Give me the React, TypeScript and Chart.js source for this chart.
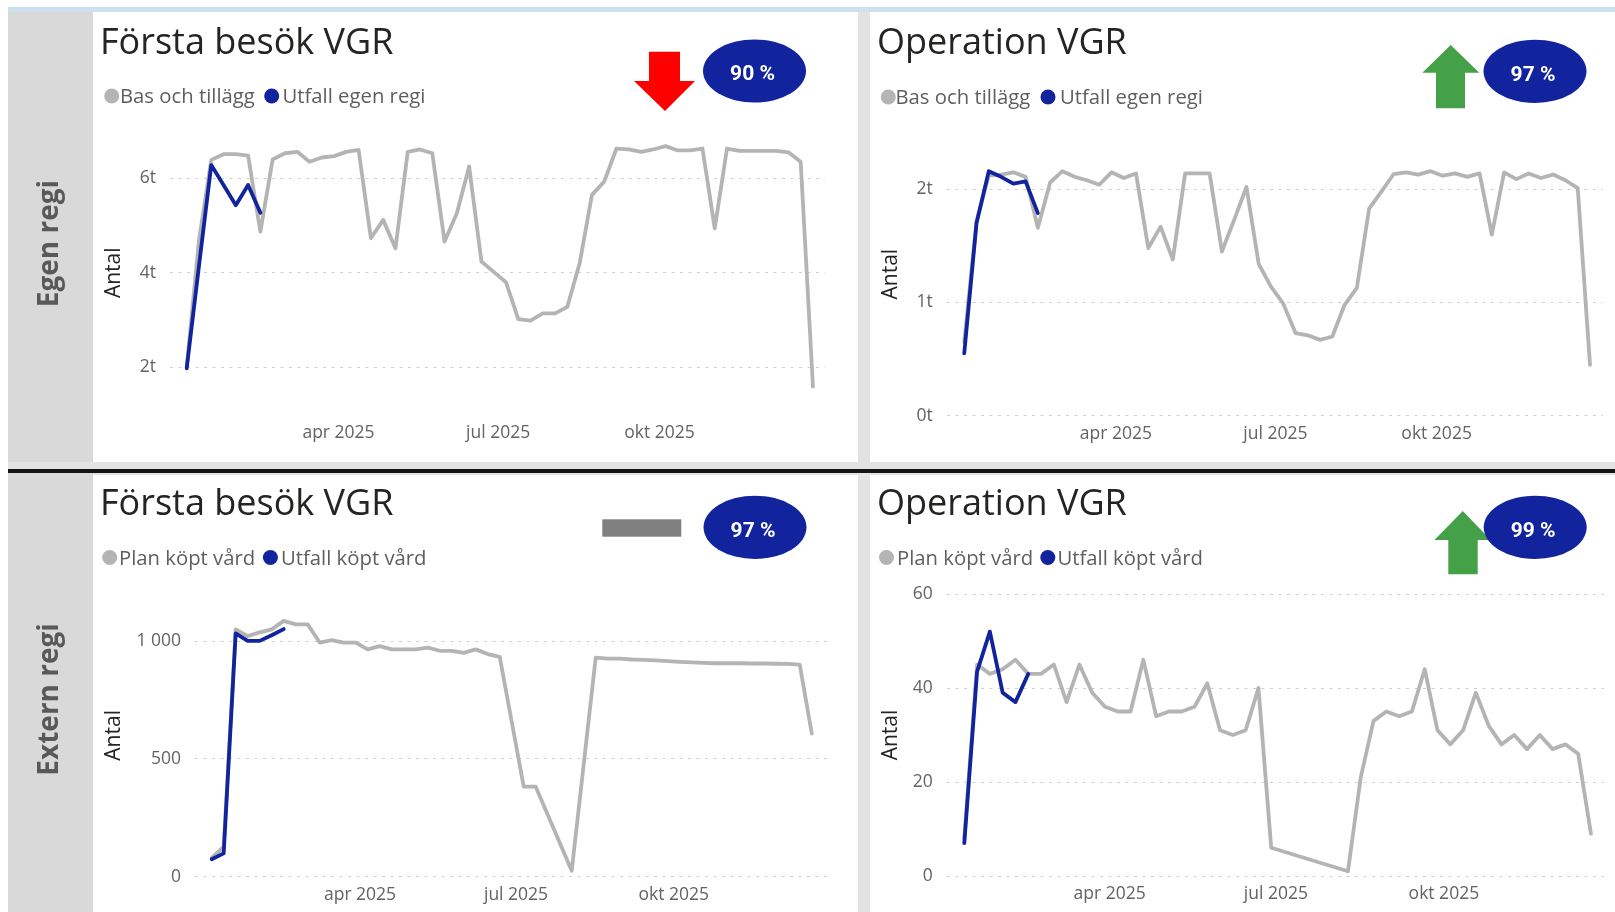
import React, { useEffect, useRef } from 'react';
import { Chart, registerables } from 'chart.js';

Chart.register(...registerables);

const FONT = "'Open Sans', 'Noto Sans', sans-serif";
const GRAY = '#b4b4b4';
const BLUE = '#12239E';
const TICK_COLOR = '#666260';
const TEXT_DARK = '#252423';

// x axis: week number of 2025 (week 1 = first data week)
const X_TICK_WEEKS = [13.36, 26.36, 39.5];
const X_TICK_LABELS = ['apr 2025', 'jul 2025', 'okt 2025'];

const ROW_LABELS = ['Egen regi', 'Extern regi'];
const LEGEND_EGEN = ['Bas och tillägg', 'Utfall egen regi'];
const LEGEND_EXTERN = ['Plan köpt vård', 'Utfall köpt vård'];
const Y_TITLE = 'Antal';

// Top-left: Första besök VGR (egen regi)
const TL_TITLE = 'Första besök VGR';
const TL_KPI = '90 %';
const TL_FIRST_WEEK = 1;
const TL_BAS = [2000, 4690, 6390, 6510, 6510, 6480, 4870, 6400, 6530, 6560, 6350, 6440, 6470, 6560, 6600, 4730, 5120, 4520, 6560, 6610, 6530, 4660, 5260, 6250, 4240, 4020, 3800, 3020, 2990, 3140, 3140, 3280, 4200, 5650, 5930, 6630, 6610, 6560, 6610, 6680, 6590, 6590, 6630, 4940, 6630, 6580, 6580, 6580, 6580, 6550, 6350, 1590];
const TL_UTFALL = [1980, 4150, 6280, 5860, 5430, 5860, 5270];
const TL_Y_TICKS = [2000, 4000, 6000];
const TL_Y_LABELS = ['2t', '4t', '6t'];

// Top-right: Operation VGR (egen regi)
const TR_TITLE = 'Operation VGR';
const TR_KPI = '97 %';
const TR_FIRST_WEEK = 1;
const TR_BAS = [650, 1720, 2120, 2130, 2150, 2110, 1660, 2060, 2160, 2110, 2080, 2040, 2150, 2100, 2140, 1480, 1670, 1380, 2140, 2140, 2140, 1450, 1730, 2020, 1340, 1140, 990, 730, 710, 670, 700, 980, 1130, 1830, 1980, 2135, 2150, 2130, 2160, 2120, 2140, 2110, 2140, 1600, 2150, 2090, 2140, 2100, 2130, 2080, 2010, 450];
const TR_UTFALL = [551, 1700, 2160, 2110, 2050, 2070, 1790];
const TR_Y_TICKS = [0, 1000, 2000];
const TR_Y_LABELS = ['0t', '1t', '2t'];

// Bottom-left: Första besök VGR (extern regi)
const BL_TITLE = 'Första besök VGR';
const BL_KPI = '97 %';
const BL_FIRST_WEEK = 1;
const BL_PLAN = [80, 127, 1050, 1021, 1037, 1050, 1086, 1071, 1071, 994, 1004, 994, 994, 965, 979, 965, 965, 965, 972, 959, 959, 950, 965, 945, 933, null, 382, 382, null, null, 25, null, 930, 926, 926, 922, 920, 918, 915, 912, 910, 908, 906, 906, 906, 905, 905, 904, 903, 900, 608];
const BL_UTFALL = [74, 99, 1033, 1001, 1001, 1025, 1051];
const BL_Y_TICKS = [0, 500, 1000];
const BL_Y_LABELS = ['0', '500', '1 000'];

// Bottom-right: Operation VGR (extern regi)
const BR_TITLE = 'Operation VGR';
const BR_KPI = '99 %';
const BR_FIRST_WEEK = 2;
const BR_PLAN = [8, 45, 43, 44, 46, 43, 43, 45, 37, 45, 39, 36, 35, 35, 46, 34, 35, 35, 36, 41, 31, 30, 31, 40, 6, null, null, null, null, null, 1, 21, 33, 35, 34, 35, 44, 31, 28, 31, 39, 32, 28, 30, 27, 30, 27, 28, 26, 9];
const BR_UTFALL = [7, 43.5, 52, 39, 37, 43];
const BR_Y_TICKS = [0, 20, 40, 60];
const BR_Y_LABELS = ['0', '20', '40', '60'];

type Area = { l: number; t: number; r: number; b: number };
type ChartProps = {
  left: number; top: number; width: number; height: number;
  area: Area;
  xMin: number; xMax: number; yMin: number; yMax: number;
  yTicks: number[]; yLabels: string[];
  firstWeek: number;
  plan: (number | null)[];
  actual: number[];
  names: string[];
};

function LineChart(p: ChartProps) {
  const ref = useRef<HTMLCanvasElement | null>(null);
  useEffect(() => {
    const canvas = ref.current;
    if (!canvas) return;
    const toPts = (arr: (number | null)[]) => arr.map((v, i) => ({ x: p.firstWeek + i, y: v }));
    const tickFont = { family: FONT, size: 17.5, lineHeight: 1.2 };
    const chart = new Chart(canvas, {
      type: 'line',
      data: {
        datasets: [
          {
            label: p.names[0], data: toPts(p.plan) as any, borderColor: GRAY, backgroundColor: GRAY,
            borderWidth: 3.8, pointRadius: 0, tension: 0, spanGaps: true, order: 2,
            borderJoinStyle: 'round', borderCapStyle: 'round',
          },
          {
            label: p.names[1], data: toPts(p.actual) as any, borderColor: BLUE, backgroundColor: BLUE,
            borderWidth: 3.8, pointRadius: 0, tension: 0, spanGaps: true, order: 1,
            borderJoinStyle: 'round', borderCapStyle: 'round',
          },
        ],
      },
      options: {
        animation: false,
        responsive: false,
        maintainAspectRatio: false,
        layout: { padding: { top: p.area.t - p.top, right: p.left + p.width - p.area.r, left: 0, bottom: 0 } },
        plugins: { legend: { display: false }, tooltip: { enabled: false } },
        scales: {
          x: {
            type: 'linear', min: p.xMin, max: p.xMax, bounds: 'data',
            afterBuildTicks: (axis: any) => { axis.ticks = X_TICK_WEEKS.map((v) => ({ value: v })); },
            afterFit: (axis: any) => { axis.height = p.top + p.height - p.area.b; },
            ticks: {
              autoSkip: false, maxRotation: 0, minRotation: 0, padding: 7.8, color: TICK_COLOR, font: tickFont,
              callback: (_v: any, i: number) => X_TICK_LABELS[i],
            },
            grid: { display: false, drawTicks: false },
            border: { display: false },
          },
          y: {
            type: 'linear', min: p.yMin, max: p.yMax, bounds: 'data',
            afterBuildTicks: (axis: any) => { axis.ticks = p.yTicks.map((v) => ({ value: v })); },
            afterFit: (axis: any) => { axis.width = p.area.l - p.left; },
            ticks: {
              padding: 0, color: TICK_COLOR, font: tickFont,
              callback: (_v: any, i: number) => p.yLabels[i],
            },
            grid: { color: '#cfcfcf', lineWidth: 1, drawTicks: true, tickLength: 14, tickColor: 'rgba(0,0,0,0)' },
            border: { display: false, dash: [3, 5.5] },
            title: {
              display: true, text: Y_TITLE, color: TEXT_DARK,
              font: { family: FONT, size: 21, weight: '500', lineHeight: 1.2 },
              padding: { top: 8.5, bottom: 0 },
            },
          },
        },
      } as any,
    });
    return () => chart.destroy();
  }, []);
  return (
    <canvas
      ref={ref}
      width={p.width}
      height={p.height}
      style={{ position: 'absolute', left: p.left, top: p.top, width: p.width, height: p.height }}
    />
  );
}

function Legend({ names, dots, texts, cy, base }: { names: string[]; dots: number[]; texts: number[]; cy: number; base: number }) {
  return (
    <g>
      <circle cx={dots[0]} cy={cy} r={7.5} fill={GRAY} />
      <text x={texts[0]} y={base} fontFamily={FONT} fontSize={20.3} fill="#605e5c">{names[0]}</text>
      <circle cx={dots[1]} cy={cy} r={7.5} fill={BLUE} />
      <text x={texts[1]} y={base} fontFamily={FONT} fontSize={20.3} fill="#605e5c">{names[1]}</text>
    </g>
  );
}

function Kpi({ cx, cy, text }: { cx: number; cy: number; text: string }) {
  return (
    <g>
      <ellipse cx={cx} cy={cy} rx={51.5} ry={31.6} fill={BLUE} />
      <text x={cx - 2} y={cy + 9.3} textAnchor="middle" fontFamily="Roboto, 'Open Sans', sans-serif" fontWeight={700} fontSize={21} fill="#ffffff">{text}</text>
    </g>
  );
}

export default function App() {
  const abs = (l: number, t: number, w: number, h: number, bg: string): React.CSSProperties => ({
    position: 'absolute', left: l, top: t, width: w, height: h, background: bg,
  });
  return (
    <div style={{ position: 'fixed', left: 0, top: 0, width: 1615, height: 912, background: '#ffffff', overflow: 'hidden' }}>
      <div style={abs(8, 7, 1607, 5, '#cde0ee')} />
      <div style={abs(8, 12, 1607, 900, '#e3e3e3')} />
      <div style={abs(8, 12, 85, 450, '#d9d9d9')} />
      <div style={abs(8, 473, 85, 439, '#d9d9d9')} />
      <div style={abs(93, 12, 765, 450, '#ffffff')} />
      <div style={abs(870, 12, 745, 450, '#ffffff')} />
      <div style={abs(93, 475, 765, 437, '#ffffff')} />
      <div style={abs(870, 475, 745, 437, '#ffffff')} />
      <div style={abs(8, 469, 1607, 3.5, '#141414')} />

      <LineChart
        left={93} top={115} width={765} height={345}
        area={{ l: 170, t: 131.05, r: 825, b: 414.55 }}
        xMin={-0.36} xMax={52.98} yMin={1000} yMax={7000}
        yTicks={TL_Y_TICKS} yLabels={TL_Y_LABELS}
        firstWeek={TL_FIRST_WEEK} plan={TL_BAS} actual={TL_UTFALL} names={LEGEND_EGEN}
      />
      <LineChart
        left={870} top={115} width={745} height={345}
        area={{ l: 946.7, t: 132.7, r: 1603, b: 415.7 }}
        xMin={-0.43} xMax={53.06} yMin={0} yMax={2500}
        yTicks={TR_Y_TICKS} yLabels={TR_Y_LABELS}
        firstWeek={TR_FIRST_WEEK} plan={TR_BAS} actual={TR_UTFALL} names={LEGEND_EGEN}
      />
      <LineChart
        left={93} top={578} width={765} height={334}
        area={{ l: 195, t: 594, r: 827, b: 876.7 }}
        xMin={-0.39} xMax={52.27} yMin={0} yMax={1200}
        yTicks={BL_Y_TICKS} yLabels={BL_Y_LABELS}
        firstWeek={BL_FIRST_WEEK} plan={BL_PLAN} actual={BL_UTFALL} names={LEGEND_EXTERN}
      />
      <LineChart
        left={870} top={578} width={745} height={334}
        area={{ l: 946.7, t: 594, r: 1604, b: 876 }}
        xMin={0.624} xMax={52.02} yMin={0} yMax={60}
        yTicks={BR_Y_TICKS} yLabels={BR_Y_LABELS}
        firstWeek={BR_FIRST_WEEK} plan={BR_PLAN} actual={BR_UTFALL} names={LEGEND_EXTERN}
      />

      <svg width={1615} height={912} style={{ position: 'absolute', left: 0, top: 0, pointerEvents: 'none' }}>
        <text transform="translate(57.5,243.6) rotate(-90)" textAnchor="middle" fontFamily={FONT} fontWeight={700} fontSize={28} fill="#595959">{ROW_LABELS[0]}</text>
        <text transform="translate(57.5,699.4) rotate(-90)" textAnchor="middle" fontFamily={FONT} fontWeight={700} fontSize={28} fill="#595959">{ROW_LABELS[1]}</text>

        <text x={100} y={54} fontFamily={FONT} fontSize={36} fill={TEXT_DARK}>{TL_TITLE}</text>
        <text x={877} y={54} fontFamily={FONT} fontSize={36} fill={TEXT_DARK}>{TR_TITLE}</text>
        <text x={100} y={515} fontFamily={FONT} fontSize={36} fill={TEXT_DARK}>{BL_TITLE}</text>
        <text x={877} y={515} fontFamily={FONT} fontSize={36} fill={TEXT_DARK}>{BR_TITLE}</text>

        <Legend names={LEGEND_EGEN} dots={[111.7, 271.7]} texts={[120, 282.5]} cy={96} base={102.8} />
        <Legend names={LEGEND_EGEN} dots={[888.3, 1048]} texts={[895.5, 1060]} cy={97} base={103.8} />
        <Legend names={LEGEND_EXTERN} dots={[109.7, 270.4]} texts={[119, 281]} cy={557.5} base={564.5} />
        <Legend names={LEGEND_EXTERN} dots={[886.5, 1047.8]} texts={[897, 1057.5]} cy={557.5} base={564.5} />

        {/* indicators */}
        <polygon points="649,51.7 680,51.7 680,81 695,81 665,111 634,81 649,81" fill="#ff0000" />
        <polygon points="1450.7,45 1479.3,72.7 1465,72.7 1465,108.3 1436,108.3 1436,72.7 1422.3,72.7" fill="#45a147" />
        <rect x={602.3} y={519.3} width={79} height={17.4} fill="#808080" />
        <polygon points="1462.8,511 1490.7,540 1477.7,540 1477.7,574.3 1448.3,574.3 1448.3,540 1434.4,540" fill="#45a147" />

        <Kpi cx={754.5} cy={71} text={TL_KPI} />
        <Kpi cx={1535} cy={71.3} text={TR_KPI} />
        <Kpi cx={755} cy={527.3} text={BL_KPI} />
        <Kpi cx={1535.2} cy={527.3} text={BR_KPI} />
      </svg>
    </div>
  );
}
